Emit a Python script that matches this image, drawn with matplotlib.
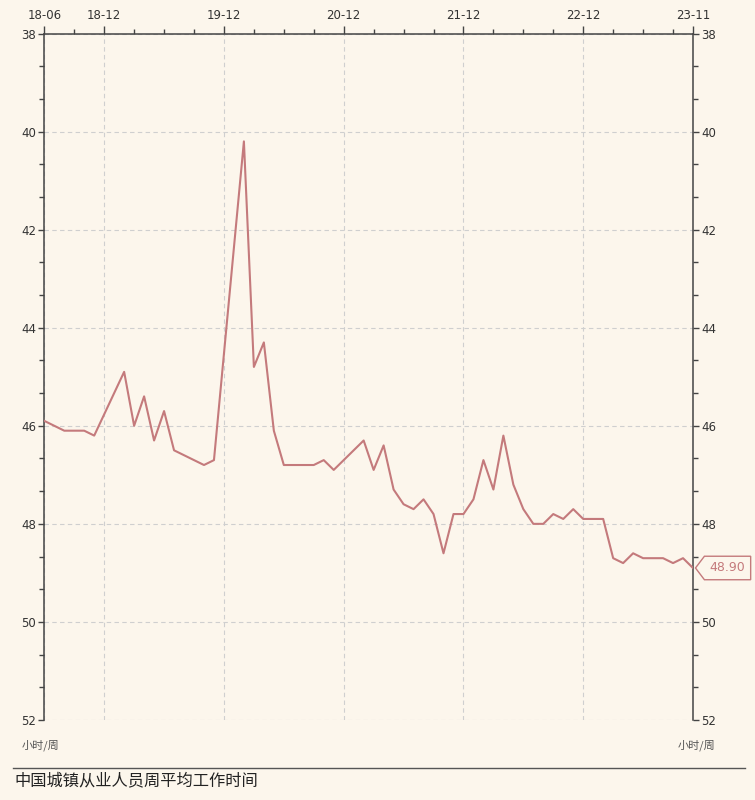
"""
China urban employees: average weekly working hours (layout as in the reference)
"""
import numpy as np
import matplotlib
matplotlib.use("Agg")
import matplotlib.pyplot as plt
from matplotlib.path import Path
from matplotlib.lines import Line2D
from matplotlib.ticker import FixedLocator, MultipleLocator

#%%
#data (month index 0 = 2018-06)
months = [0, 2, 4, 5, 8, 9, 10, 11, 12, 13, 16, 17, 20, 21, 22, 23, 24, 27, 28, 29,
          32, 33, 34, 35, 36, 37, 38, 39, 40, 41, 42, 43, 44, 45, 46, 47, 48, 49, 50,
          51, 52, 53, 54, 56, 57, 58, 59, 60, 62, 63, 64, 65]
hours = [45.9, 46.1, 46.1, 46.2, 44.9, 46.0, 45.4, 46.3, 45.7, 46.5, 46.8, 46.7, 40.2,
         44.8, 44.3, 46.1, 46.8, 46.8, 46.7, 46.9, 46.3, 46.9, 46.4, 47.3, 47.6, 47.7,
         47.5, 47.8, 48.6, 47.8, 47.8, 47.5, 46.7, 47.3, 46.2, 47.2, 47.7, 48.0, 48.0,
         47.8, 47.9, 47.7, 47.9, 47.9, 48.7, 48.8, 48.6, 48.7, 48.7, 48.8, 48.7, 48.9]

tick_months = [0, 6, 18, 30, 42, 54, 65]
tick_labels = ["18-06", "18-12", "19-12", "20-12", "21-12", "22-12", "23-11"]

title = "中国城镇从业人员周平均工作时间"
unit = "小时/周"

#%%
#styles
bg = "#fcf6ec"
line_col = "#c47a7c"
axis_col = "#444444"
text_col = "#333333"
grid_col = "#cfcfcf"
cjk = ["Noto Sans CJK SC", "DejaVu Sans"]

fig = plt.figure(figsize=(7.55, 8.0), dpi=100, facecolor=bg)
ax = fig.add_axes([44.3 / 755, 80 / 800, (693 - 44.3) / 755, 686.5 / 800])
ax.set_facecolor(bg)

ax.plot(months, hours, color=line_col, lw=1.5, zorder=3)

#x axis on top
ax.set_xlim(0, 65)
ax.xaxis.set_ticks_position("top")
ax.xaxis.set_label_position("top")
ax.set_xticks(tick_months)
ax.set_xticklabels(tick_labels)
ax.xaxis.set_minor_locator(FixedLocator(np.arange(0, 66, 3)))

#y axis inverted, labels both sides
ax.set_ylim(38, 52)
ax.invert_yaxis()
ax.yaxis.set_major_locator(MultipleLocator(2))
ax.yaxis.set_minor_locator(MultipleLocator(2 / 3))
ax.tick_params(axis="y", which="both", left=True, right=True, labelleft=True, labelright=True)

ax.tick_params(which="major", length=6, width=1, color=axis_col, labelcolor=text_col,
               labelsize=8.5, pad=2)
ax.tick_params(which="minor", length=3.5, width=1, color=axis_col)
ax.tick_params(axis="y", which="major", length=4)

ax.grid(True, which="major", color=grid_col, ls=(0, (4, 3)), lw=0.8)

for s in ["left", "right", "top"]:
    ax.spines[s].set_color(axis_col)
    ax.spines[s].set_linewidth(1.1)
ax.spines["bottom"].set_visible(False)


#%%
#tag shaped value label at the last point
def tag_box(x0, y0, width, height, mutation_size):
    p = 0.42 * mutation_size
    x0, y0, width, height = x0 - p, y0 - p, width + 2 * p, height + 2 * p
    tip = 0.38 * height
    verts = [(x0, y0), (x0 + width, y0), (x0 + width, y0 + height), (x0, y0 + height),
             (x0 - tip, y0 + height / 2), (x0, y0)]
    codes = [Path.MOVETO] + [Path.LINETO] * 4 + [Path.CLOSEPOLY]
    return Path(verts, codes)


ax.annotate(f"{hours[-1]:.2f}", xy=(months[-1], hours[-1]), xytext=(12, 0),
            textcoords="offset points", ha="left", va="center", fontsize=9,
            color=line_col, annotation_clip=False, zorder=5,
            bbox=dict(boxstyle=tag_box, fc=bg, ec=line_col, lw=1))

#units, rule and title below the plot
fig.text(22 / 755, 1 - 745 / 800, unit, family=cjk, fontsize=8, color="#555555",
         ha="left", va="center")
fig.text(715 / 755, 1 - 745 / 800, unit, family=cjk, fontsize=8, color="#555555",
         ha="right", va="center")
fig.add_artist(Line2D([13 / 755, 745 / 755], [1 - 768 / 800, 1 - 768 / 800],
                      color="#555555", lw=1))
fig.text(14 / 755, 1 - 781 / 800, title, family=cjk, fontsize=11.7, color="#222222",
         ha="left", va="center")

fig.savefig("out.png", dpi=100, facecolor=bg)
